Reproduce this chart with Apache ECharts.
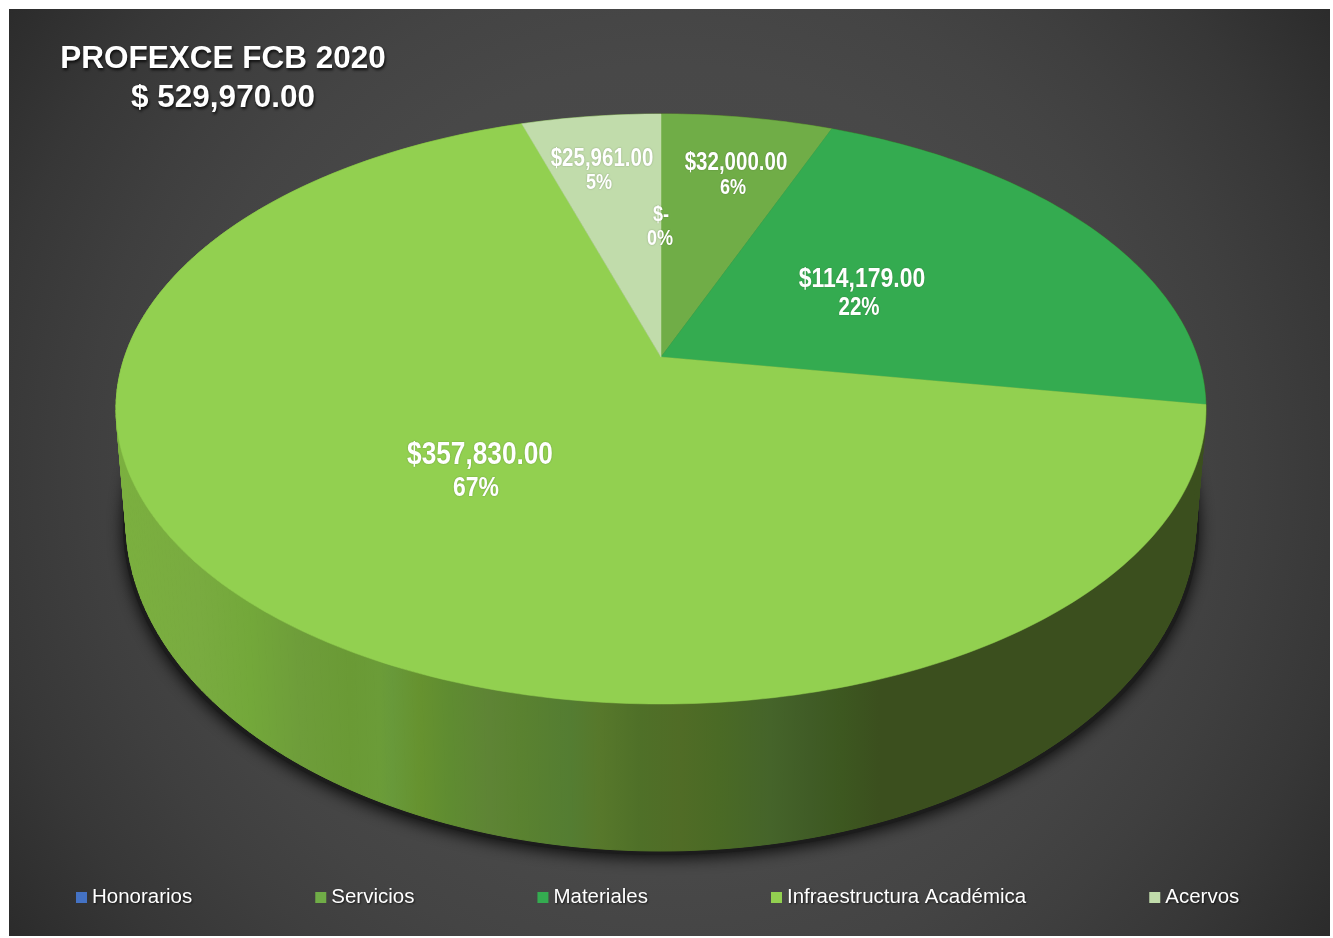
<!DOCTYPE html>
<html>
<head>
<meta charset="utf-8">
<title>PROFEXCE FCB 2020</title>
<style>
  html, body { margin: 0; padding: 0; background: #fff; }
  #chart { width: 1333px; height: 938px; }
</style>
<script src="https://cdn.jsdelivr.net/npm/echarts@6/dist/echarts.min.js"></script>
</head>
<body>
<div id="chart"></div>
<script>
// data
const chartTitle = 'PROFEXCE FCB 2020';
const chartTotal = '$ 529,970.00';
const categories = ['Honorarios', 'Servicios', 'Materiales', 'Infraestructura Académica', 'Acervos'];
const amounts = [0, 32000, 114179, 357830, 25961];
const amountLabels = ['$-', '$32,000.00', '$114,179.00', '$357,830.00', '$25,961.00'];
const percentLabels = ['0%', '6%', '22%', '67%', '5%'];

// styles and layout
const sliceColors = ['#4472c4', '#70ad47', '#34ab50', '#92d050', '#c1dcab'];
const labelFont = '"Liberation Sans", sans-serif';
const labelSquash = 0.82; // the labels are set in a condensed face
// x1, y1, size1 for the amount, x2, y2, size2 for the percent
const labelLayout = [
    [661, 215, 22, 660, 239, 22],
    [736, 163, 25, 733, 188, 22],
    [862, 279, 28, 859, 308, 25],
    [480, 455, 32, 476, 488, 28],
    [602, 159, 25, 599, 183, 22]
];
const topFace = { cx: 661, cy: 409, rx: 545, ry: 295 };
const bottomFace = { cx: 661, cy: 521, rx: 535, ry: 330 };
const tilt = -0.176; // moves the apex above the middle of the ellipse, as a perspective view does
const wallStops = [
    [116, '#7bb03f'], [200, '#79ab40'], [250, '#73a83a'], [300, '#6e9d3a'], [350, '#6a9a35'],
    [380, '#6b9c38'], [392, '#68993a'], [420, '#66922f'], [450, '#5f8c31'], [490, '#5e8435'],
    [520, '#5a8230'], [570, '#547d32'], [600, '#57782b'], [640, '#4f7028'], [680, '#506c26'],
    [720, '#4a6a25'], [770, '#45642a'], [810, '#405c26'], [840, '#3d5820'], [880, '#3b4f1e'],
    [1206, '#3b4f1e']
];

const total = amounts.reduce((a, b) => a + b, 0);
const sliceStart = [];
amounts.reduce((sum, v, i) => {
    sliceStart[i] = sum / total * 360;
    return sum + v;
}, 0);

// clockwise angle from the top of the pie to a point on a tilted ellipse
function project(angle, face, radius = 1) {
    const t = angle * Math.PI / 180;
    const x = Math.sin(t) * radius;
    const y = -Math.cos(t) * radius;
    const d = 1 + tilt * y;
    return [
        face.cx + face.rx * x * Math.sqrt(1 - tilt * tilt) / d,
        face.cy + face.ry * (y + tilt) / d
    ];
}

function arc(start, end, face) {
    const steps = Math.max(1, Math.ceil(end - start));
    const pts = [];
    for (let i = 0; i <= steps; i++) {
        pts.push(project(start + (end - start) * i / steps, face));
    }
    return pts;
}

const wallFill = new echarts.graphic.LinearGradient(
    wallStops[0][0], 0, wallStops[wallStops.length - 1][0], 0,
    wallStops.map(s => ({
        offset: (s[0] - wallStops[0][0]) / (wallStops[wallStops.length - 1][0] - wallStops[0][0]),
        color: s[1]
    })),
    true
);

function renderWalls(params, api) {
    const start = api.value(0);
    const end = api.value(1);
    const children = [];
    if (params.dataIndex === 0) {
        // shadow under the pie
        children.push({
            type: 'ellipse',
            shape: {
                cx: bottomFace.cx,
                cy: bottomFace.cy + 4,
                rx: bottomFace.rx + 3,
                ry: bottomFace.ry
            },
            style: {
                fill: '#1c1c1c',
                shadowBlur: 16,
                shadowOffsetY: 3,
                shadowColor: 'rgba(0,0,0,0.85)'
            }
        });
        children.push({
            type: 'ellipse',
            shape: bottomFace,
            style: { fill: '#3b4f1e' }
        });
    }
    const top = arc(start, end, topFace);
    const bottom = arc(start, end, bottomFace);
    for (let i = 0; i < top.length - 1; i++) {
        children.push({
            type: 'polygon',
            shape: { points: [top[i], top[i + 1], bottom[i + 1], bottom[i]] },
            style: { fill: wallFill, stroke: wallFill, lineWidth: 1 }
        });
    }
    return { type: 'group', children };
}

function labelText(text, x, y, size) {
    return {
        type: 'text',
        z2: 10,
        x,
        y,
        scaleX: labelSquash,
        style: {
            text,
            x: 0,
            y: 0,
            fill: '#ffffff',
            font: `bold ${size}px ${labelFont}`,
            textAlign: 'center',
            textVerticalAlign: 'middle',
            textShadowColor: 'rgba(40,60,20,0.35)',
            textShadowBlur: 2
        }
    };
}

function makeRenderSlice(i) {
    return function (params, api) {
        const l = labelLayout[i];
        const points = [project(0, topFace, 0)].concat(arc(api.value(0), api.value(1), topFace));
        return {
            type: 'group',
            children: [
                {
                    type: 'polygon',
                    shape: { points },
                    style: { fill: sliceColors[i], stroke: sliceColors[i], lineWidth: 0.5 }
                },
                labelText(amountLabels[i], l[0], l[1], l[2]),
                labelText(percentLabels[i], l[3], l[4], l[5])
            ]
        };
    };
}

const sliceRanges = categories.map((c, i) => [sliceStart[i], sliceStart[i] + amounts[i] / total * 360]);

const chart = echarts.init(document.getElementById('chart'));

const titleStyle = {
    color: '#ffffff',
    fontFamily: '"Liberation Sans", sans-serif',
    fontWeight: 'bold',
    fontSize: 31.5,
    textShadowColor: 'rgba(0,0,0,0.8)',
    textShadowBlur: 3,
    textShadowOffsetX: 1,
    textShadowOffsetY: 2
};

chart.setOption({
    animation: false,
    backgroundColor: '#ffffff',
    graphic: [{
        type: 'rect',
        z: 0,
        shape: { x: 9, y: 9, width: 1321, height: 927 },
        style: {
            fill: new echarts.graphic.RadialGradient(670, 470, 810, [
                { offset: 0, color: '#4c4c4c' },
                { offset: 0.5, color: '#484848' },
                { offset: 0.62, color: '#444444' },
                { offset: 0.72, color: '#3f3f3f' },
                { offset: 0.85, color: '#373737' },
                { offset: 1, color: '#2b2b2b' }
            ], true)
        }
    }],
    title: [
        { text: chartTitle, left: 218, top: 38, textAlign: 'center', textStyle: titleStyle },
        { text: chartTotal, left: 218, top: 77, textAlign: 'center', textStyle: titleStyle }
    ],
    legend: {
        data: categories,
        left: 71,
        top: 882,
        icon: 'rect',
        itemWidth: 11,
        itemHeight: 11,
        itemGap: 123,
        selectedMode: false,
        textStyle: {
            color: '#ffffff',
            fontFamily: labelFont,
            fontSize: 20.5,
            textShadowColor: 'rgba(0,0,0,0.6)',
            textShadowBlur: 2,
            textShadowOffsetX: 1,
            textShadowOffsetY: 1
        }
    },
    series: [
        {
            type: 'custom',
            name: 'walls',
            coordinateSystem: 'none',
            silent: true,
            z: 2,
            data: sliceRanges,
            renderItem: renderWalls
        }
    ].concat(categories.map((name, i) => ({
        type: 'custom',
        name,
        coordinateSystem: 'none',
        z: 3,
        itemStyle: { color: sliceColors[i] },
        data: [sliceRanges[i]],
        renderItem: makeRenderSlice(i)
    })))
});

window.addEventListener('resize', () => chart.resize());
</script>
</body>
</html>
